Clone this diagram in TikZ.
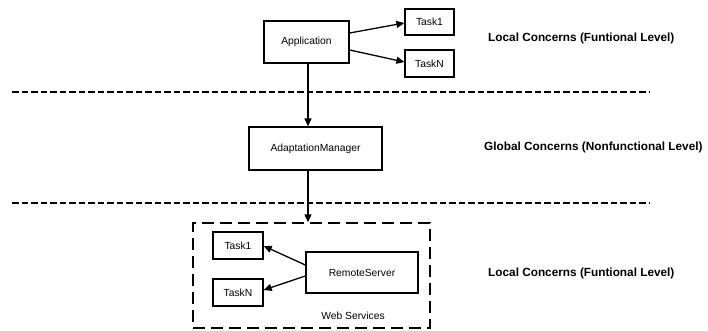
\documentclass[tikz,border=0pt]{standalone}
\usepackage{fontspec}
\setmainfont{Liberation Sans}
\usetikzlibrary{arrows.meta}
\begin{document}
\begin{tikzpicture}[x=1pt,y=-1pt,
  box/.style={draw,line width=1.3pt,minimum width=#1,inner sep=0pt,font=\fontsize{10.3}{12}\selectfont},
  arr/.style={line width=1.3pt,-{Triangle[length=8pt,width=7pt]}},
  sep/.style={line width=1.5pt,dash pattern=on 6.5pt off 3pt},
  lbl/.style={anchor=west,inner sep=0pt,font=\fontsize{11.8}{14}\selectfont\bfseries}]
\useasboundingbox (0,0) rectangle (708,331);
\node[box=85pt,minimum height=42pt] (app) at (306.5,42) {Application};
\node[box=49pt,minimum height=26pt] (t1) at (429.5,22) {Task1};
\node[box=49pt,minimum height=27pt] (tn) at (429.5,63.5) {TaskN};
\node[box=133pt,minimum height=43pt] (am) at (315.5,148.5) {AdaptationManager};
\node[box=50pt,minimum height=27pt] (bt1) at (238,245.5) {Task1};
\node[box=50pt,minimum height=27pt] (btn) at (238,292.5) {TaskN};
\node[box=112pt,minimum height=41pt] (rs) at (362,272.5) {RemoteServer};
\node[draw,line width=1.5pt,dash pattern=on 12pt off 6pt,minimum width=237pt,minimum height=105pt,inner sep=0pt] (ws) at (311.5,275.5) {};
\node[inner sep=0pt,font=\fontsize{10.3}{12}\selectfont] (wsl) at (353,316) {Web Services};
\coordinate (l1a) at (12,92);
\coordinate (l1b) at (650,92);
\coordinate (l2a) at (12,203);
\coordinate (l2b) at (650,203);
\draw[sep] (l1a) -- (l1b);
\draw[sep] (l2a) -- (l2b);
\draw[arr] (app.east |- 0,33) -- (t1.west |- 0,23);
\draw[arr] (app.east |- 0,50) -- (tn.west |- 0,62);
\draw[arr] (app.south -| 308,0) -- (am.north -| 308,0);
\draw[arr] (am.south -| 308,0) -- (ws.north -| 308,0);
\draw[arr] (rs.west |- 0,265) -- (bt1.east |- 0,246);
\draw[arr] (rs.west |- 0,276) -- (btn.east |- 0,290);
\node[lbl] (c1) at (488,38) {Local Concerns (Funtional Level)};
\node[lbl] (c2) at (484,147) {Global Concerns (Nonfunctional Level)};
\node[lbl] (c3) at (488,273) {Local Concerns (Funtional Level)};
\end{tikzpicture}
\end{document}
